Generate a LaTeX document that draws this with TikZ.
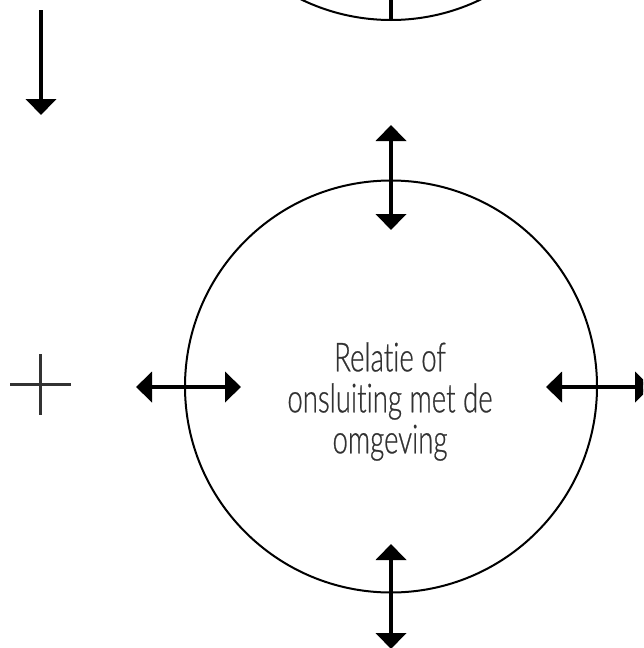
\documentclass[tikz,border=0pt]{standalone}
\usepackage{fontspec}
\usetikzlibrary{arrows.meta}
\newfontfamily\lblfont{Lato Light}[FakeStretch=0.69, FakeBold=0.6, Ligatures=NoCommon]
\definecolor{inkgray}{RGB}{50,50,50}
\tikzset{
  ring/.style={circle, draw, line width=2pt, inner sep=0pt, minimum size=412pt},
  flow/.style={line width=4.5pt, -{Triangle[width=30pt,length=16pt]}},
  twoway/.style={line width=4.5pt, {Triangle[width=30pt,length=16pt]}-{Triangle[width=30pt,length=16pt]}},
  plus/.style={line width=3pt, draw=inkgray},
  caption/.style={font=\lblfont\fontsize{40}{41}\selectfont, text=inkgray, align=center, inner sep=0pt}
}
\begin{document}
\begin{tikzpicture}[x=1pt, y=-1pt]
  \useasboundingbox (0,0) rectangle (643,648);
  \clip (0,0) rectangle (643,648);

  % circle above, mostly off the page, with its lower connector
  \node[ring] (upper) at (391,-186) {};
  \coordinate (upin) at (391,-20);
  \draw[line width=4.5pt] (upin) -- (upper.south);

  % main circle
  \node[ring] (main) at (391,386.5) {};
  \node[caption] (label) at (390,401.5) {Relatie of\\onsluiting met de\\omgeving};

  % downward arrow at the left
  \coordinate (dtop) at (41,10);
  \coordinate (dbot) at (41,115);
  \draw[flow] (dtop) -- (dbot);

  % plus sign
  \coordinate (pl) at (10,384);
  \coordinate (pr) at (71,384);
  \coordinate (pt) at (40,354);
  \coordinate (pb) at (40,415);
  \draw[plus] (pl) -- (pr);
  \draw[plus] (pt) -- (pb);

  % double arrows through the circle's edge
  \coordinate (nA) at (391,125);
  \coordinate (nB) at (391,230);
  \draw[twoway] (nA) -- (nB);

  \coordinate (sA) at (391,544);
  \coordinate (sB) at (391,649);
  \draw[twoway] (sA) -- (sB);

  \coordinate (wA) at (136,387);
  \coordinate (wB) at (241,387);
  \draw[twoway] (wA) -- (wB);

  \coordinate (eA) at (546,387);
  \coordinate (eB) at (651,387);
  \draw[twoway] (eA) -- (eB);
\end{tikzpicture}
\end{document}
